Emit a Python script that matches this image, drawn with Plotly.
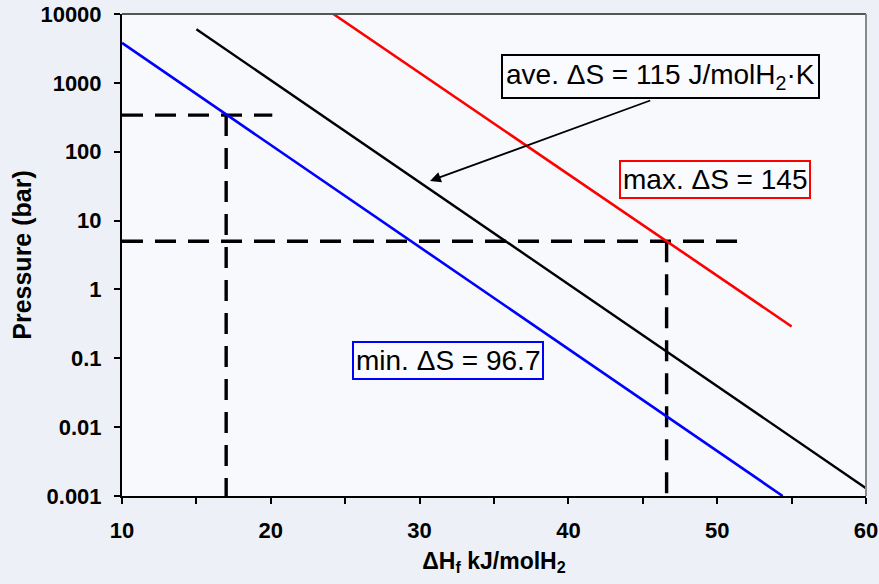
import math
import plotly.graph_objects as go

# ---- data ----
min_x = [10, 54.4]
min_p = [3800, 0.001]
ave_x = [15, 60]
ave_p = [6000, 0.0013]
max_x = [24.2, 55]
max_p = [10000, 0.29]

guide1_h_x = [10, 20.1]
guide1_h_p = [340, 340]
guide1_v_x = [17, 17]
guide1_v_p = [340, 0.001]
guide2_h_x = [10, 52.1]
guide2_h_p = [5, 5]
guide2_v_x = [46.6, 46.6]
guide2_v_p = [5, 0.001]

y_ticks = [0.001, 0.01, 0.1, 1, 10, 100, 1000, 10000]
y_ticktext = ["0.001", "0.01", "0.1", "1", "10", "100", "1000", "10000"]
x_ticks = [10, 20, 30, 40, 50, 60]

FONT = "Liberation Sans, Arial, sans-serif"
dash = "21px,12px"

fig = go.Figure()
for gx, gp in [(guide1_h_x, guide1_h_p), (guide1_v_x, guide1_v_p),
               (guide2_h_x, guide2_h_p), (guide2_v_x, guide2_v_p)]:
    fig.add_trace(go.Scatter(x=gx, y=gp, mode="lines",
                             line=dict(color="black", width=3.4, dash=dash),
                             hoverinfo="skip", showlegend=False))

fig.add_trace(go.Scatter(x=min_x, y=min_p, mode="lines",
                         line=dict(color="#0000ff", width=2.6), showlegend=False))
fig.add_trace(go.Scatter(x=ave_x, y=ave_p, mode="lines",
                         line=dict(color="black", width=2.4), showlegend=False))
fig.add_trace(go.Scatter(x=max_x, y=max_p, mode="lines",
                         line=dict(color="#ff0000", width=2.6), showlegend=False))

ann_font = dict(family=FONT, size=28, color="black")
fig.add_annotation(x=46.2, y=3.086, xref="x", yref="y",
                   text="ave. ΔS = 115 J/molH<sub>2</sub>·K", showarrow=False,
                   font=ann_font, bordercolor="black", borderwidth=2, borderpad=3,
                   bgcolor="rgba(250,251,254,1)")
fig.add_annotation(x=49.85, y=1.591, xref="x", yref="y",
                   text="max. ΔS = 145", showarrow=False,
                   font=ann_font, bordercolor="#ff0000", borderwidth=2, borderpad=2,
                   bgcolor="rgba(250,251,254,1)")
fig.add_annotation(x=31.9, y=-1.036, xref="x", yref="y",
                   text="min. ΔS = 96.7", showarrow=False,
                   font=ann_font, bordercolor="#0000ff", borderwidth=2, borderpad=2,
                   bgcolor="rgba(250,251,254,1)")
# arrow from ave box to the ave line
fig.add_annotation(x=30.7, y=1.576, xref="x", yref="y",
                   ax=45.6, ay=2.752, axref="x", ayref="y",
                   text="", showarrow=True, arrowhead=2, arrowsize=1.2,
                   arrowwidth=1.8, arrowcolor="black", standoff=0)

# frame: top and right lines
fig.add_shape(type="line", xref="paper", yref="paper", x0=0, x1=1, y0=1, y1=1,
              line=dict(color="#555555", width=2))
fig.add_shape(type="line", xref="paper", yref="paper", x0=1, x1=1, y0=0, y1=1,
              line=dict(color="#888888", width=2))

fig.update_xaxes(range=[10, 60], tickvals=x_ticks, ticks="outside", ticklen=6,
                 tickwidth=1.5, tickcolor="black", showline=True, linecolor="black",
                 linewidth=2, showgrid=False, zeroline=False, automargin=False,
                 ticklabelstandoff=8,
                 tickfont=dict(family=FONT, size=22, color="black", weight="bold"),
                 minor=dict(dtick=5, tick0=10, ticks="outside", ticklen=6,
                            tickwidth=1.5, tickcolor="black", showgrid=False),
                 title=dict(text="ΔH<sub>f</sub> kJ/molH<sub>2</sub>", standoff=10,
                            font=dict(family=FONT, size=23, color="black", weight="bold")))
fig.update_yaxes(type="log", range=[-3, 4], tickvals=y_ticks, ticktext=y_ticktext,
                 ticks="outside", ticklen=6, tickwidth=1.5, tickcolor="black",
                 showline=True, linecolor="black", linewidth=2, showgrid=False,
                 zeroline=False, automargin=False, ticklabelstandoff=8,
                 tickfont=dict(family=FONT, size=22, color="black", weight="bold"),
                 title=dict(text="Pressure (bar)", standoff=2,
                            font=dict(family=FONT, size=25, color="black", weight="bold")))

fig.update_layout(width=879, height=584,
                  margin=dict(l=122, r=13, t=14, b=88, pad=0, autoexpand=False),
                  paper_bgcolor="#edf1f7", plot_bgcolor="#f8f9fc",
                  font=dict(family=FONT), showlegend=False)

fig.write_html("out.html")
